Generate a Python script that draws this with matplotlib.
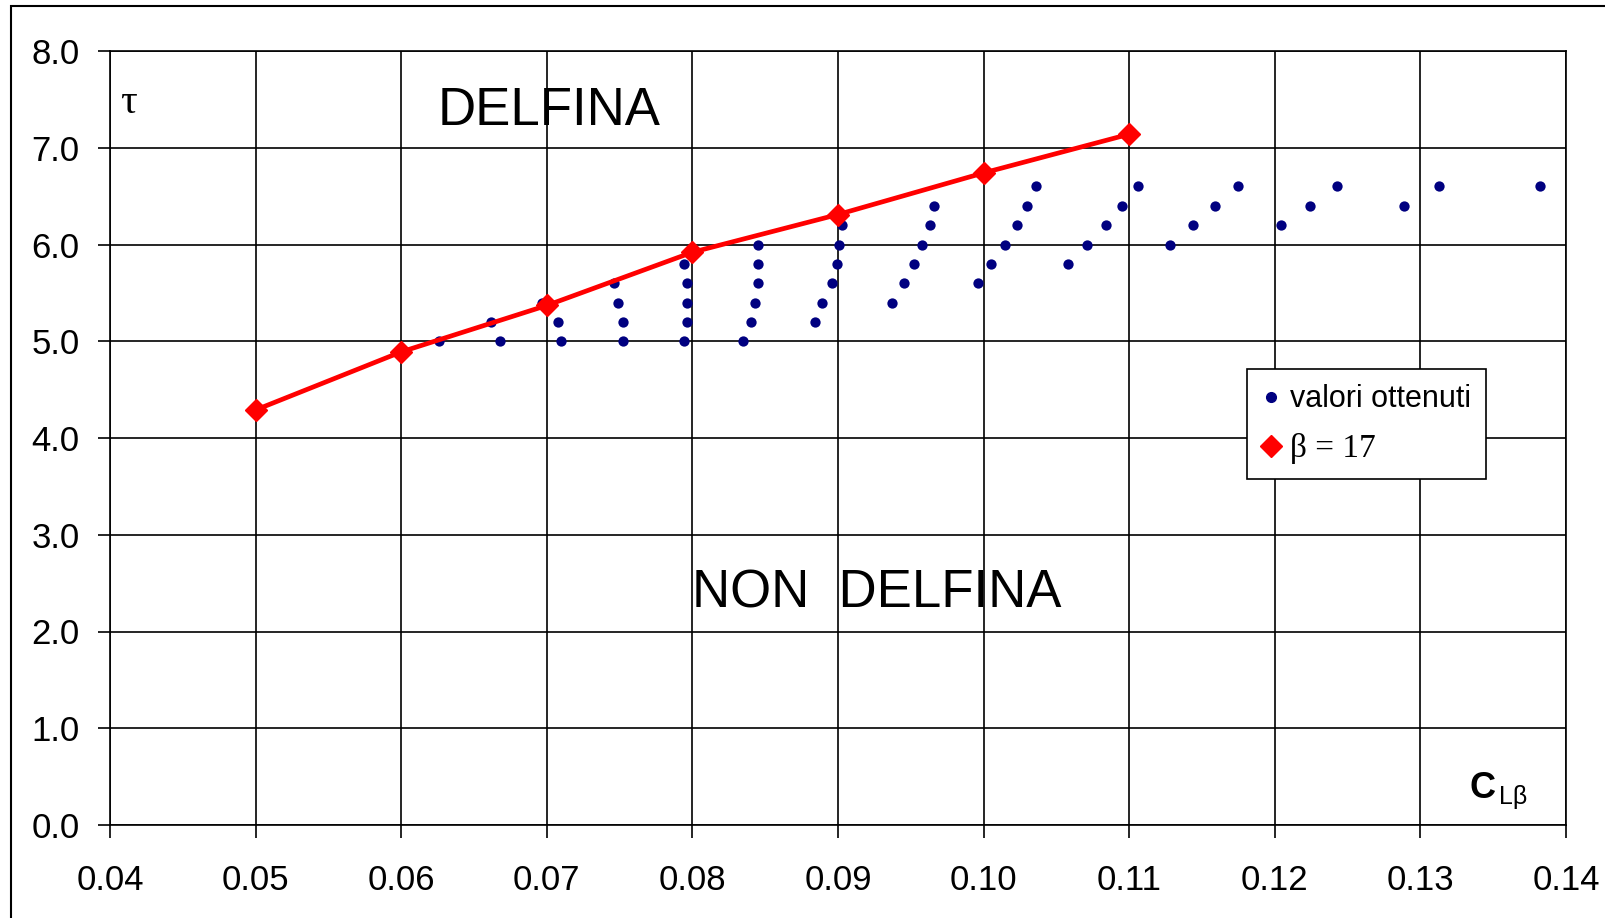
import numpy as np
import matplotlib
matplotlib.use('Agg')
from matplotlib import pyplot as plt
from matplotlib.lines import Line2D
from matplotlib.patches import Rectangle

plt.rcParams['font.family'] = ['Liberation Sans', 'DejaVu Sans']

# valori ottenuti
cl_obtained = [0.0626, 0.0662, 0.0668, 0.0697, 0.0708, 0.0710,
               0.0746, 0.0749, 0.0752, 0.0752,
               0.0794, 0.0796, 0.0796, 0.0796, 0.0794,
               0.0835, 0.0840, 0.0843, 0.0845, 0.0845, 0.0845,
               0.0884, 0.0889, 0.0896, 0.0899, 0.0901, 0.0903,
               0.0937, 0.0945, 0.0952, 0.0958, 0.0963, 0.0966,
               0.0996, 0.1005, 0.1015, 0.1023, 0.1030, 0.1036,
               0.1058, 0.1071, 0.1084, 0.1095, 0.1106,
               0.1128, 0.1144, 0.1159, 0.1175,
               0.1204, 0.1224, 0.1243,
               0.1289, 0.1313, 0.1382]
tau_obtained = [5.0, 5.2, 5.0, 5.4, 5.2, 5.0,
                5.6, 5.4, 5.2, 5.0,
                5.8, 5.6, 5.4, 5.2, 5.0,
                5.0, 5.2, 5.4, 5.6, 5.8, 6.0,
                5.2, 5.4, 5.6, 5.8, 6.0, 6.2,
                5.4, 5.6, 5.8, 6.0, 6.2, 6.4,
                5.6, 5.8, 6.0, 6.2, 6.4, 6.6,
                5.8, 6.0, 6.2, 6.4, 6.6,
                6.0, 6.2, 6.4, 6.6,
                6.2, 6.4, 6.6,
                6.4, 6.6, 6.6]

# beta = 17 limit curve
cl_beta17 = [0.05, 0.06, 0.07, 0.08, 0.09, 0.10, 0.11]
tau_beta17 = [4.29, 4.89, 5.37, 5.92, 6.31, 6.74, 7.14]

x_ticks = [0.04, 0.05, 0.06, 0.07, 0.08, 0.09, 0.10, 0.11, 0.12, 0.13, 0.14]
y_ticks = [0.0, 1.0, 2.0, 3.0, 4.0, 5.0, 6.0, 7.0, 8.0]

W, H = 1605, 918
fig = plt.figure(figsize=(W / 100, H / 100), dpi=100)
ax = fig.add_axes([110 / W, 1 - 825 / H, (1566 - 110) / W, (825 - 51) / H])

ax.scatter(cl_obtained, tau_obtained, s=55, color='#000080', zorder=3, linewidths=0)
ax.plot(cl_beta17, tau_beta17, color='#ff0000', lw=3.4, marker='D', ms=11,
        zorder=4)

ax.set_xlim(0.04, 0.14)
ax.set_ylim(0, 8)
ax.set_xticks(x_ticks)
ax.set_yticks(y_ticks)
ax.set_xticklabels(['%.2f' % v for v in x_ticks])
ax.set_yticklabels(['%.1f' % v for v in y_ticks])
ax.tick_params(direction='out', length=9, width=1.2, labelsize=25, color='black')
ax.tick_params(axis='x', pad=19)
ax.tick_params(axis='y', pad=13)
ax.grid(True, color='black', linewidth=1.2)
ax.set_axisbelow(True)
for s in ax.spines.values():
    s.set_linewidth(1.2)

# text inside the plot
ax.text(0.0625, 7.235, 'DELFINA', fontsize=38, ha='left', va='baseline')
ax.text(0.0800, 2.246, 'NON  DELFINA', fontsize=38, ha='left', va='baseline')
ax.text(0.0407, 7.36, '\u03c4', fontsize=30, ha='left', va='baseline',
        family=['Liberation Serif', 'DejaVu Serif'])
ax.text(0.1334, 0.28, 'C', fontsize=26, fontweight='bold', ha='left', va='baseline')
ax.text(0.1354, 0.22, 'L\u03b2', fontsize=18, ha='left', va='baseline')

handles = [Line2D([], [], ls='none', marker='o', ms=7, color='#000080'),
           Line2D([], [], ls='none', marker='D', ms=11, color='#ff0000')]
leg = ax.legend(handles, ['valori ottenuti', '\u03b2 = 17'],
                loc='upper left', bbox_to_anchor=(1247 / W, 1 - 369 / H),
                bbox_transform=fig.transFigure, fontsize=22, frameon=True,
                fancybox=False, edgecolor='black', framealpha=1,
                borderaxespad=0, borderpad=0.5, handlelength=0.6,
                handletextpad=0.3, labelspacing=0.6)
leg.get_frame().set_linewidth(1.2)
leg.get_texts()[1].set_fontfamily(['Liberation Serif', 'DejaVu Serif'])
leg.get_texts()[1].set_fontsize(24)

# outer chart border
fig.add_artist(Rectangle((11 / W, -0.02), 1.0, 1.02 - 6 / H,
                         transform=fig.transFigure, fill=False,
                         ec='black', lw=1.5))

fig.savefig('out.png', dpi=100)
